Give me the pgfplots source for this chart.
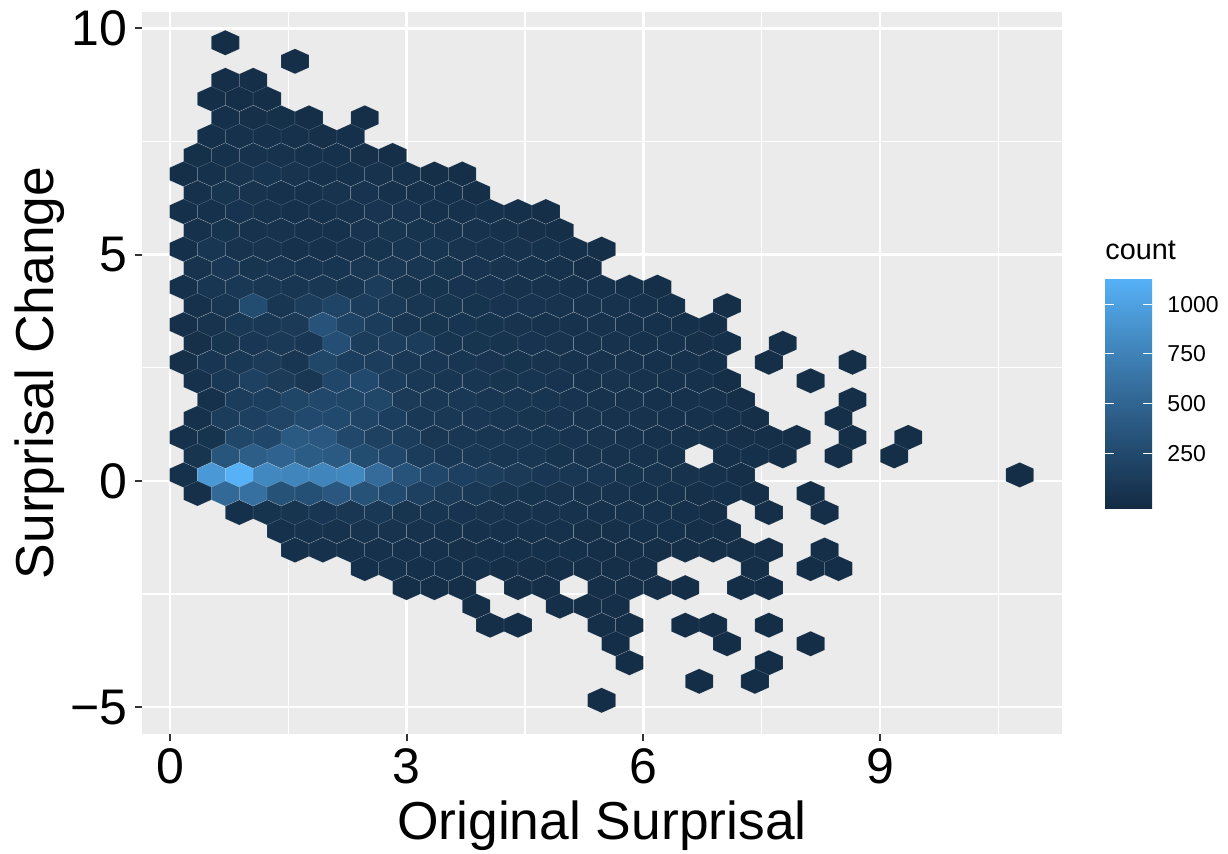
\documentclass[border=0pt]{standalone}
\usepackage{fontspec}
\setmainfont{Liberation Sans}
\usepackage{pgfplots}
\pgfplotsset{compat=1.18}

\definecolor{panelgrey}{HTML}{EBEBEB}
\definecolor{tickgrey}{HTML}{333333}

% ggplot's default gradient, low to high
\pgfplotsset{colormap={ggblue}{
    rgb255(0cm)=(19,43,67)
    rgb255(1cm)=(34,74,110)
    rgb255(2cm)=(51,106,152)
    rgb255(3cm)=(68,141,198)
    rgb255(4cm)=(86,177,247)
}}

% hexagon of one bin, 27.87 x 25.04 px at 0.5 pt per px
\pgfdeclareplotmark{hexbin}{%
    \pgfpathmoveto{\pgfqpoint{0pt}{6.26pt}}%
    \pgfpathlineto{\pgfqpoint{6.967pt}{3.13pt}}%
    \pgfpathlineto{\pgfqpoint{6.967pt}{-3.13pt}}%
    \pgfpathlineto{\pgfqpoint{0pt}{-6.26pt}}%
    \pgfpathlineto{\pgfqpoint{-6.967pt}{-3.13pt}}%
    \pgfpathlineto{\pgfqpoint{-6.967pt}{3.13pt}}%
    \pgfpathclose
    \pgfusepathqfillstroke
}

\begin{document}
\begin{tikzpicture}
\path[use as bounding box] (0pt,0pt) rectangle (614pt,427pt);
\begin{axis}[
    at={(71pt,60pt)},
    anchor=south west,
    scale only axis,
    width=460pt,
    height=361pt,
    xmin=-0.355, xmax=11.305,
    ymin=-5.594, ymax=10.36,
    axis background/.style={fill=panelgrey},
    axis line style={draw=none},
    xtick={0,3,6,9},
    xticklabels={0,3,6,9},
    ytick={-5,0,5,10},
    yticklabels={−5,0,5,10},
    minor xtick={1.5,4.5,7.5,10.5},
    minor ytick={-2.5,2.5,7.5},
    grid=both,
    major grid style={draw=white,line width=1.3pt},
    minor grid style={draw=white,line width=0.65pt},
    tick pos=left,
    tick align=outside,
    major tick length=3.5pt,
    minor tick length=0pt,
    tick style={draw=tickgrey,line width=1pt},
    tick label style={font=\fontsize{25}{25}\selectfont,black},
    xticklabel style={inner sep=0pt,yshift=-3.5pt},
    yticklabel style={inner sep=0pt,xshift=-3.5pt},
    xlabel={Original Surprisal},
    ylabel={Surprisal Change},
    label style={font=\fontsize{26.7}{26.7}\selectfont,black},
    xlabel style={at={(axis description cs:0.5,0)},anchor=base,yshift=-53pt},
    ylabel style={at={(axis description cs:0,0.5)},anchor=base,rotate=0,yshift=44pt},
    colormap name=ggblue,
    point meta min=-31,
    point meta max=1131,
    colorbar,
    colorbar/width=23.5pt,
    colorbar style={
        at={(parent axis.south east)},
        anchor=south west,
        xshift=13pt,
        yshift=112.5pt,
        scale only axis,
        width=23.5pt,
        height=115.4pt,
        axis line style={draw=none},
        axis on top,
        ytick={250,500,750,1000},
        yticklabels={250,500,750,1000},
        minor ytick={},
        grid=none,
        ytick pos=both,
        yticklabel pos=right,
        tick align=inside,
        major tick length=4.7pt,
        tick style={draw=white,line width=0.5pt},
        yticklabel style={font=\fontsize{11.5}{11.5}\selectfont,black,inner sep=0pt,xshift=7.5pt},
    },
]
\addplot[
    scatter,
    only marks,
    mark=hexbin,
    point meta=explicit,
    line width=0.3pt,
    scatter/use mapped color={draw=white,draw opacity=0.13,fill=mapped color},
] coordinates {
    (0.701,9.68)[1]
    (1.584,9.27)[2]
    (0.701,8.85)[3] (1.055,8.85)[4]
    (0.525,8.44)[3] (0.878,8.44)[8] (1.231,8.44)[5]
    (0.701,8.02)[15] (1.055,8.02)[18] (1.408,8.02)[12] (1.761,8.02)[9] (2.468,8.02)[5]
    (0.525,7.61)[15] (0.878,7.61)[28] (1.231,7.61)[25] (1.584,7.61)[25] (1.938,7.61)[18] (2.291,7.61)[14]
    (0.348,7.19)[12] (0.701,7.19)[30] (1.055,7.19)[36] (1.408,7.19)[33] (1.761,7.19)[30] (2.114,7.19)[24] (2.468,7.19)[18] (2.821,7.19)[8]
    (0.171,6.78)[9] (0.525,6.78)[30] (0.878,6.78)[40] (1.231,6.78)[55] (1.584,6.78)[42] (1.938,6.78)[28] (2.291,6.78)[24] (2.644,6.78)[36] (2.997,6.78)[22] (3.351,6.78)[11] (3.704,6.78)[8]
    (0.348,6.36)[22] (0.701,6.36)[60] (1.055,6.36)[42] (1.408,6.36)[30] (1.761,6.36)[30] (2.114,6.36)[42] (2.468,6.36)[48] (2.821,6.36)[30] (3.174,6.36)[25] (3.527,6.36)[17] (3.881,6.36)[8]
    (0.171,5.95)[15] (0.525,5.95)[30] (0.878,5.95)[48] (1.231,5.95)[36] (1.584,5.95)[30] (1.938,5.95)[24] (2.291,5.95)[33] (2.644,5.95)[57] (2.997,5.95)[47] (3.351,5.95)[25] (3.704,5.95)[30] (4.057,5.95)[22] (4.410,5.95)[14] (4.764,5.95)[8]
    (0.348,5.53)[25] (0.701,5.53)[52] (1.055,5.53)[33] (1.408,5.53)[36] (1.761,5.53)[30] (2.114,5.53)[30] (2.468,5.53)[48] (2.821,5.53)[60] (3.174,5.53)[50] (3.527,5.53)[33] (3.881,5.53)[38] (4.234,5.53)[30] (4.587,5.53)[19] (4.940,5.53)[10]
    (0.171,5.12)[14] (0.525,5.12)[66] (0.878,5.12)[42] (1.231,5.12)[42] (1.584,5.12)[30] (1.938,5.12)[30] (2.291,5.12)[36] (2.644,5.12)[52] (2.997,5.12)[55] (3.351,5.12)[55] (3.704,5.12)[41] (4.057,5.12)[38] (4.410,5.12)[33] (4.764,5.12)[25] (5.117,5.12)[16] (5.470,5.12)[8]
    (0.348,4.70)[42] (0.701,4.70)[85] (1.055,4.70)[60] (1.408,4.70)[66] (1.761,4.70)[55] (2.114,4.70)[55] (2.468,4.70)[80] (2.821,4.70)[78] (3.174,4.70)[66] (3.527,4.70)[60] (3.881,4.70)[47] (4.234,4.70)[41] (4.587,4.70)[36] (4.940,4.70)[28] (5.294,4.70)[11]
    (0.171,4.28)[21] (0.525,4.28)[66] (0.878,4.28)[90] (1.231,4.28)[78] (1.584,4.28)[66] (1.938,4.28)[78] (2.291,4.28)[72] (2.644,4.28)[130] (2.997,4.28)[60] (3.351,4.28)[50] (3.704,4.28)[47] (4.057,4.28)[47] (4.410,4.28)[38] (4.764,4.28)[36] (5.117,4.28)[30] (5.470,4.28)[22] (5.823,4.28)[14] (6.177,4.28)[8]
    (0.348,3.87)[25] (0.701,3.87)[70] (1.055,3.87)[280] (1.408,3.87)[70] (1.761,3.87)[140] (2.114,3.87)[200] (2.468,3.87)[130] (2.821,3.87)[100] (3.174,3.87)[66] (3.527,3.87)[60] (3.881,3.87)[52] (4.234,3.87)[47] (4.587,3.87)[47] (4.940,3.87)[41] (5.294,3.87)[38] (5.647,3.87)[36] (6.000,3.87)[28] (6.353,3.87)[17] (7.060,3.87)[8]
    (0.171,3.45)[20] (0.525,3.45)[45] (0.878,3.45)[90] (1.231,3.45)[90] (1.584,3.45)[110] (1.938,3.45)[340] (2.291,3.45)[190] (2.644,3.45)[130] (2.997,3.45)[72] (3.351,3.45)[60] (3.704,3.45)[55] (4.057,3.45)[50] (4.410,3.45)[41] (4.764,3.45)[38] (5.117,3.45)[38] (5.470,3.45)[36] (5.823,3.45)[30] (6.177,3.45)[22] (6.530,3.45)[17] (6.883,3.45)[8]
    (0.348,3.04)[18] (0.701,3.04)[60] (1.055,3.04)[85] (1.408,3.04)[100] (1.761,3.04)[85] (2.114,3.04)[300] (2.468,3.04)[130] (2.821,3.04)[140] (3.174,3.04)[126] (3.527,3.04)[55] (3.881,3.04)[60] (4.234,3.04)[50] (4.587,3.04)[47] (4.940,3.04)[41] (5.294,3.04)[33] (5.647,3.04)[38] (6.000,3.04)[28] (6.353,3.04)[28] (6.707,3.04)[19] (7.060,3.04)[14] (7.766,3.04)[3]
    (0.171,2.62)[18] (0.525,2.62)[75] (0.878,2.62)[90] (1.231,2.62)[115] (1.584,2.62)[70] (1.938,2.62)[220] (2.291,2.62)[150] (2.644,2.62)[140] (2.997,2.62)[88] (3.351,2.62)[82] (3.704,2.62)[66] (4.057,2.62)[58] (4.410,2.62)[52] (4.764,2.62)[44] (5.117,2.62)[38] (5.470,2.62)[38] (5.823,2.62)[33] (6.177,2.62)[30] (6.530,2.62)[25] (6.883,2.62)[16] (7.590,2.62)[3] (8.649,2.62)[3]
    (0.348,2.21)[22] (0.701,2.21)[90] (1.055,2.21)[180] (1.408,2.21)[115] (1.761,2.21)[80] (2.114,2.21)[230] (2.468,2.21)[250] (2.821,2.21)[130] (3.174,2.21)[88] (3.527,2.21)[72] (3.881,2.21)[72] (4.234,2.21)[60] (4.587,2.21)[55] (4.940,2.21)[47] (5.294,2.21)[38] (5.647,2.21)[41] (6.000,2.21)[36] (6.353,2.21)[28] (6.707,2.21)[25] (7.060,2.21)[11] (8.119,2.21)[2]
    (0.525,1.79)[30] (0.878,1.79)[130] (1.231,1.79)[150] (1.584,1.79)[210] (1.938,1.79)[240] (2.291,1.79)[210] (2.644,1.79)[220] (2.997,1.79)[110] (3.351,1.79)[94] (3.704,1.79)[88] (4.057,1.79)[72] (4.410,1.79)[66] (4.764,1.79)[55] (5.117,1.79)[47] (5.470,1.79)[38] (5.823,1.79)[33] (6.177,1.79)[30] (6.530,1.79)[28] (6.883,1.79)[22] (7.236,1.79)[11] (8.649,1.79)[3]
    (0.348,1.38)[25] (0.701,1.38)[130] (1.055,1.38)[170] (1.408,1.38)[200] (1.761,1.38)[250] (2.114,1.38)[250] (2.468,1.38)[200] (2.821,1.38)[150] (3.174,1.38)[94] (3.527,1.38)[94] (3.881,1.38)[82] (4.234,1.38)[72] (4.587,1.38)[60] (4.940,1.38)[47] (5.294,1.38)[44] (5.647,1.38)[38] (6.000,1.38)[33] (6.353,1.38)[28] (6.707,1.38)[22] (7.060,1.38)[16] (7.413,1.38)[8] (8.473,1.38)[3]
    (0.171,0.96)[22] (0.525,0.96)[52] (0.878,0.96)[220] (1.231,0.96)[230] (1.584,0.96)[400] (1.938,0.96)[380] (2.291,0.96)[240] (2.644,0.96)[180] (2.997,0.96)[140] (3.351,0.96)[77] (3.704,0.96)[82] (4.057,0.96)[72] (4.410,0.96)[66] (4.764,0.96)[55] (5.117,0.96)[47] (5.470,0.96)[41] (5.823,0.96)[33] (6.177,0.96)[30] (6.530,0.96)[25] (6.883,0.96)[22] (7.236,0.96)[19] (7.590,0.96)[11] (7.943,0.96)[4] (8.649,0.96)[3] (9.356,0.96)[2]
    (0.348,0.55)[60] (0.701,0.55)[360] (1.055,0.55)[440] (1.408,0.55)[480] (1.761,0.55)[420] (2.114,0.55)[400] (2.468,0.55)[280] (2.821,0.55)[230] (3.174,0.55)[130] (3.527,0.55)[90] (3.881,0.55)[90] (4.234,0.55)[70] (4.587,0.55)[66] (4.940,0.55)[52] (5.294,0.55)[44] (5.647,0.55)[38] (6.000,0.55)[33] (6.353,0.55)[25] (7.060,0.55)[16] (7.413,0.55)[14] (7.766,0.55)[5] (8.473,0.55)[2] (9.179,0.55)[2]
    (0.171,0.13)[22] (0.525,0.13)[930] (0.878,0.13)[1131] (1.231,0.13)[800] (1.584,0.13)[780] (1.938,0.13)[780] (2.291,0.13)[800] (2.644,0.13)[560] (2.997,0.13)[340] (3.351,0.13)[230] (3.704,0.13)[170] (4.057,0.13)[140] (4.410,0.13)[110] (4.764,0.13)[82] (5.117,0.13)[77] (5.470,0.13)[66] (5.823,0.13)[50] (6.177,0.13)[41] (6.530,0.13)[33] (6.883,0.13)[22] (7.236,0.13)[11] (10.769,0.13)[1]
    (0.348,-0.28)[18] (0.701,-0.28)[540] (1.055,-0.28)[600] (1.408,-0.28)[330] (1.761,-0.28)[310] (2.114,-0.28)[380] (2.468,-0.28)[330] (2.821,-0.28)[260] (3.174,-0.28)[170] (3.527,-0.28)[120] (3.881,-0.28)[90] (4.234,-0.28)[60] (4.587,-0.28)[50] (4.940,-0.28)[44] (5.294,-0.28)[38] (5.647,-0.28)[36] (6.000,-0.28)[30] (6.353,-0.28)[25] (6.707,-0.28)[19] (7.060,-0.28)[14] (7.413,-0.28)[8] (8.119,-0.28)[2]
    (0.878,-0.70)[14] (1.231,-0.70)[50] (1.584,-0.70)[60] (1.938,-0.70)[75] (2.291,-0.70)[80] (2.644,-0.70)[95] (2.997,-0.70)[60] (3.351,-0.70)[55] (3.704,-0.70)[47] (4.057,-0.70)[41] (4.410,-0.70)[38] (4.764,-0.70)[36] (5.117,-0.70)[33] (5.470,-0.70)[30] (5.823,-0.70)[25] (6.177,-0.70)[22] (6.530,-0.70)[16] (6.883,-0.70)[11] (7.590,-0.70)[2] (8.296,-0.70)[2]
    (1.408,-1.11)[28] (1.761,-1.11)[35] (2.114,-1.11)[38] (2.468,-1.11)[45] (2.821,-1.11)[42] (3.174,-1.11)[38] (3.527,-1.11)[30] (3.881,-1.11)[28] (4.234,-1.11)[25] (4.587,-1.11)[25] (4.940,-1.11)[22] (5.294,-1.11)[19] (5.647,-1.11)[19] (6.000,-1.11)[16] (6.353,-1.11)[14] (6.707,-1.11)[8] (7.060,-1.11)[5]
    (1.584,-1.53)[17] (1.938,-1.53)[21] (2.291,-1.53)[24] (2.644,-1.53)[28] (2.997,-1.53)[22] (3.351,-1.53)[22] (3.704,-1.53)[19] (4.057,-1.53)[16] (4.410,-1.53)[16] (4.764,-1.53)[14] (5.117,-1.53)[14] (5.470,-1.53)[11] (5.823,-1.53)[10] (6.177,-1.53)[8] (6.530,-1.53)[7] (6.883,-1.53)[4] (7.236,-1.53)[3] (7.590,-1.53)[2] (8.296,-1.53)[2]
    (2.468,-1.94)[17] (2.821,-1.94)[21] (3.174,-1.94)[16] (3.527,-1.94)[14] (3.881,-1.94)[14] (4.234,-1.94)[11] (4.587,-1.94)[8] (4.940,-1.94)[8] (5.294,-1.94)[7] (5.647,-1.94)[5] (6.000,-1.94)[3] (7.413,-1.94)[2] (8.119,-1.94)[1] (8.473,-1.94)[1]
    (2.997,-2.36)[10] (3.351,-2.36)[10] (3.704,-2.36)[8] (4.410,-2.36)[4] (4.764,-2.36)[3] (5.470,-2.36)[4] (5.823,-2.36)[3] (6.177,-2.36)[2] (6.530,-2.36)[1] (7.236,-2.36)[1] (7.590,-2.36)[1]
    (3.881,-2.77)[3] (4.940,-2.77)[3] (5.294,-2.77)[2] (5.647,-2.77)[2]
    (4.057,-3.19)[2] (4.410,-3.19)[1] (5.470,-3.19)[2] (5.823,-3.19)[2] (6.530,-3.19)[1] (6.883,-3.19)[1] (7.590,-3.19)[1]
    (5.647,-3.60)[1] (7.060,-3.60)[1] (8.119,-3.60)[1]
    (5.823,-4.02)[1] (7.590,-4.02)[1]
    (6.707,-4.43)[1] (7.413,-4.43)[1]
    (5.470,-4.85)[1]
};
\end{axis}
\node[anchor=base west,inner sep=0pt,font=\fontsize{14.4}{14.4}\selectfont] at (552.5pt,297pt) {count};
\end{tikzpicture}
\end{document}
